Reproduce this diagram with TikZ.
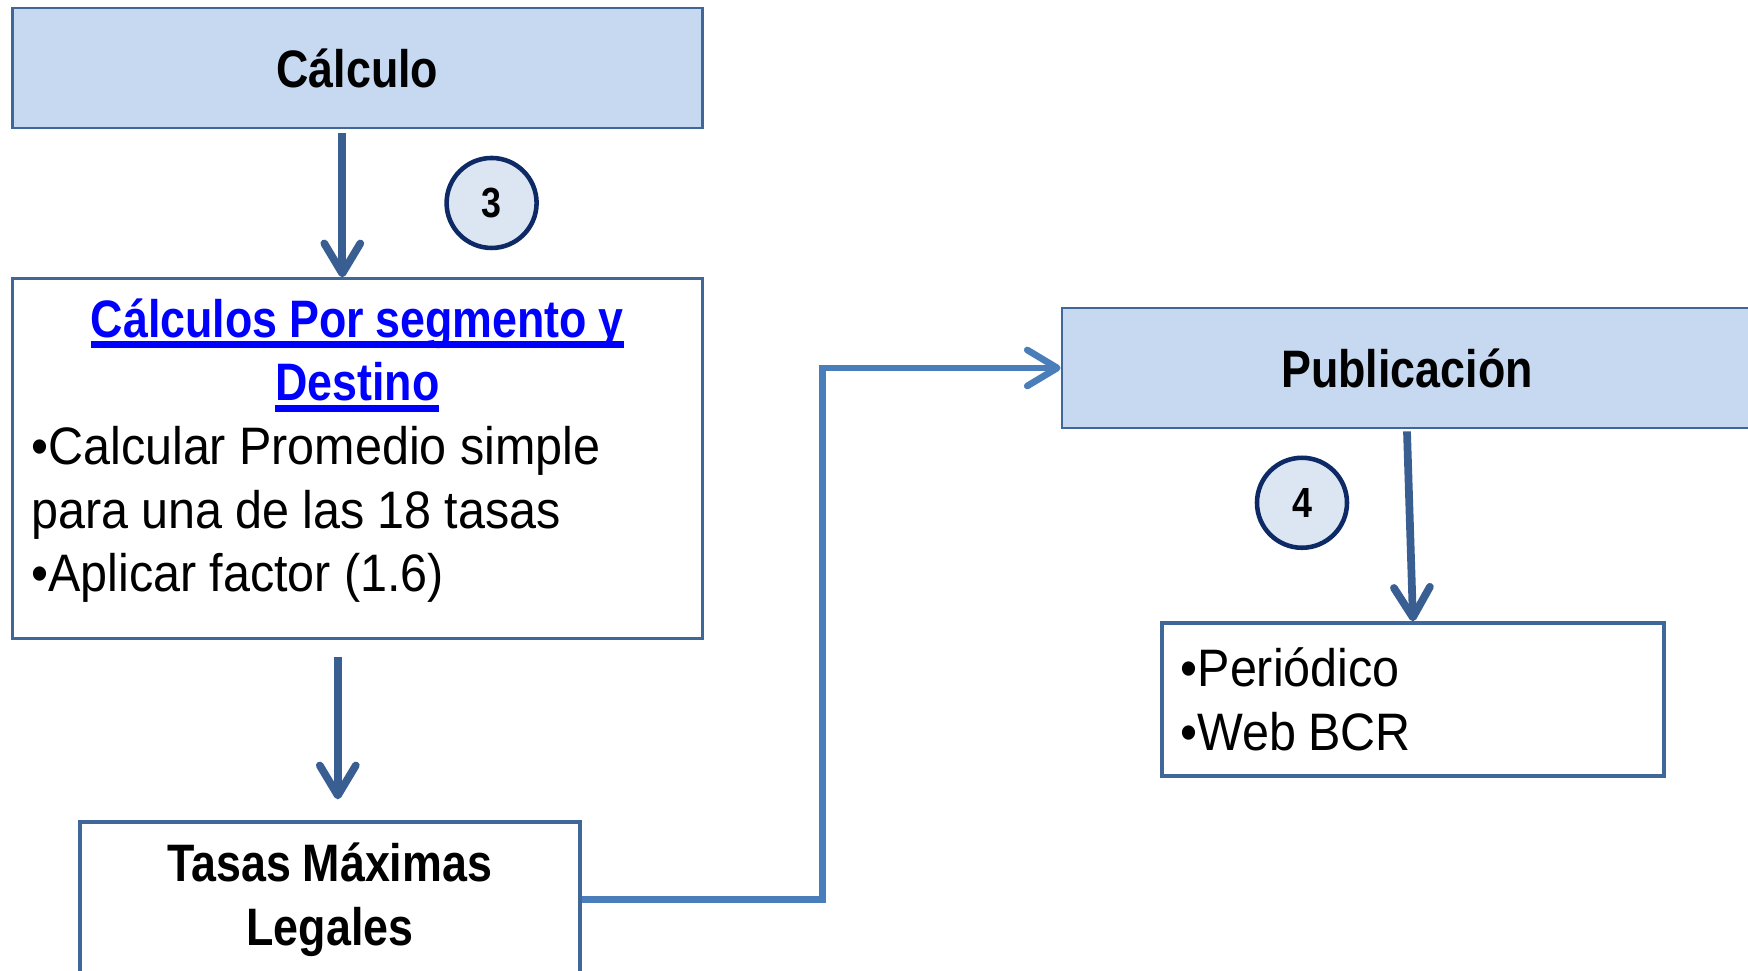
\documentclass[tikz,border=0pt]{standalone}
\usepackage{fontspec}
\setmainfont{Liberation Sans}[FakeStretch=0.92,WordSpace=0.8,BoldFeatures={FakeStretch=0.85,WordSpace=0.9}]
\usetikzlibrary{arrows.meta}
\definecolor{headfill}{RGB}{198,217,240}
\definecolor{boxedge}{RGB}{64,103,153}
\definecolor{arrowblue}{RGB}{57,94,145}
\definecolor{linkline}{RGB}{74,126,187}
\definecolor{circfill}{RGB}{220,230,242}
\definecolor{circedge}{RGB}{13,42,102}
\definecolor{linkblue}{RGB}{0,0,255}
\newcommand\linkul[1]{\leavevmode\setbox0\hbox{#1}\rlap{\rule[-3pt]{\wd0}{1.9pt}}\box0}

\begin{document}
\begin{tikzpicture}[
    headbox/.style={draw=boxedge, line width=0.8pt, fill=headfill, minimum width=6.9cm, minimum height=1.2cm, font=\bfseries\fontsize{15}{18}\selectfont},
    listbox/.style={draw=boxedge, fill=white, inner xsep=0.19cm, font=\fontsize{15}{18.1}\selectfont},
    stepcircle/.style={circle, draw=circedge, line width=1.3pt, fill=circfill, minimum size=0.9cm, inner sep=0pt, font=\bfseries\fontsize{12}{14}\selectfont},
    flow/.style={draw=arrowblue, line width=2.2pt, -{Straight Barb[length=3mm,width=3.6mm,round]}},
    link/.style={draw=linkline, line width=1.9pt, -{Straight Barb[length=3mm,width=3.6mm,round]}}
  ]
  \useasboundingbox (0,0) rectangle (17.48,9.71);

  % left column
  \node[headbox] (calc) at (3.573, 9.03) {Cálculo};
  \node[listbox, line width=0.8pt, minimum width=6.9cm, minimum height=3.6cm, text width=6.52cm] (seg) at (3.573, 5.1225)
    {{\centering\bfseries\spaceskip=0.22em\color{linkblue}\linkul{Cálculos Por segmento y}\\ \linkul{Destino}\par}
     {\raggedright\spaceskip=0.25em •Calcular Promedio simple para una de las 18 tasas\\ •Aplicar factor (1.6)\par}
     \nointerlineskip\vbox to 0.16cm{}};
  \node[listbox, line width=1.1pt, minimum width=4.994cm, minimum height=1.56cm, align=center, font=\bfseries\fontsize{15}{18.1}\selectfont] (tasas) at (3.30, 0.714)
    {Tasas Máximas\\ Legales};
  \node[stepcircle] (paso3) at (4.916, 7.68) {3};

  % right column
  \node[headbox] (pub) at (14.07, 6.03) {Publicación};
  \node[listbox, line width=1.1pt, minimum width=5.006cm, minimum height=1.528cm, text width=4.646cm] (medios) at (14.13, 2.714)
    {\spaceskip=0.22em •Periódico\\ •Web BCR};
  \node[stepcircle] (paso4) at (13.02, 4.682) {4};

  % arrows
  \draw[flow] ([xshift=-0.15cm, yshift=-0.035cm]calc.south) -- ([xshift=-0.15cm]seg.north);
  \draw[flow] ([xshift=-0.195cm, yshift=-0.167cm]seg.south) -- ++(0,-1.425);
  \draw[link] (tasas.east) -- ++(2.408,0) |- (pub.west);
  \draw[flow] ([yshift=-0.02cm]pub.south) -- (medios.north);
\end{tikzpicture}
\end{document}
